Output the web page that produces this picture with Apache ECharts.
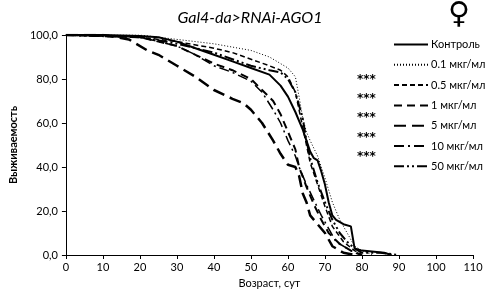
<!DOCTYPE html>
<html>
<head>
<meta charset="utf-8">
<script src="https://cdn.jsdelivr.net/npm/echarts@6/dist/echarts.min.js"></script>
<style>
  html, body { margin: 0; padding: 0; background: #fff; }
  #chart { width: 490px; height: 294px; }
</style>
</head>
<body>
<div id="chart"></div>
<script>
// названия серий (легенда)
const seriesNames = ["Контроль", "0.1 мкг/мл", "0.5 мкг/мл", "1 мкг/мл", "5 мкг/мл", "10 мкг/мл", "50 мкг/мл"];
// значимость различий с контролем
const signif = ["", "", "***", "***", "***", "***", "***"];

// выживаемость: [возраст, %]
const control = [[0,100],[10,100],[20,99.5],[25,99],[30,97],[35,94],[40,91],[45,88],[50,85],[55,82],[58,77],[60,72],[62,65],[64,57],[66,47],[67,44],[68,43],[69,38],[70,32],[71,24],[72,18],[73,16],[75,14],[77,13],[78,3],[80,2],[86,1],[88,0]];
const dose01 = [[0,100],[20,100],[30,98],[40,96],[50,93],[55,90],[57,88],[60,85],[62,81],[63,72],[64,62],[65,56],[66,52],[68,45],[70,35],[72,24],[74,16],[76,10],[78,4],[80,2],[83,0]];
const dose05 = [[0,100],[20,99],[30,97],[40,94],[45,92],[50,89],[55,86],[58,84],[60,81],[62,74],[63,66],[64,58],[65,50],[66,42],[68,32],[70,22],[72,13],[75,6],[78,2],[80,0]];
const dose1 = [[0,100],[20,99],[25,97],[30,95],[35,91],[40,87],[45,84],[50,80],[53,75],[56,70],[58,64],[60,56],[62,48],[63,40],[65,31],[67,23],[69,16],[71,10],[74,5],[77,2],[80,0]];
const dose5 = [[0,100],[10,100],[17,98],[22,93],[25,91],[30,86],[35,81],[40,75],[45,71],[48,69],[50,66],[53,60],[56,52],[58,46],[60,41],[62,40],[63,36],[64,28],[65,24],[66,18],[68,14],[70,10],[72,4],[75,1],[78,0]];
const dose10 = [[0,100],[20,99],[30,95],[35,91],[40,86],[45,83],[50,79],[53,74],[56,66],[58,60],[60,52],[62,45],[63,40],[65,32],[67,25],[69,18],[71,12],[73,6],[76,3],[78,1],[80,0]];
const dose50 = [[0,100],[20,99],[30,96],[40,92],[45,89],[50,86],[55,84],[58,83],[60,80],[62,74],[64,62],[65,52],[66,44],[68,33],[70,24],[72,16],[74,10],[76,6],[78,3],[80,1],[85,1],[90,0]];

const seriesData = [control, dose01, dose05, dose1, dose5, dose10, dose50];
const lineTypes = ["solid", [1, 2], [5, 3], [8, 5], [12, 6], [10, 4, 2, 4], [10, 3, 2, 3, 2, 3]];
const lineWidths = [2, 1, 1.5, 2, 2.5, 1.5, 2];

const font = "Lato, 'Open Sans', sans-serif";
let chart = echarts.init(document.getElementById("chart"), null, { renderer: "canvas" });

const legendTop = 34;
const legendStep = 19.3;

const option = {
	animation: false,
	backgroundColor: "#fff",
	title: {
		text: "Gal4-da>RNAi-AGO1",
		left: 245,
		textAlign: "center",
		top: 5,
		textStyle: { fontFamily: font, fontStyle: "italic", fontWeight: "normal", fontSize: 16, color: "#000" },
	},
	grid: { left: 61, right: 17, top: 35, bottom: 39 },
	legend: {
		orient: "vertical",
		left: 388,
		top: legendTop,
		itemWidth: 34,
		itemHeight: 10,
		itemGap: 9.3,
		data: seriesNames,
		itemStyle: { color: "transparent", borderColor: "transparent", borderWidth: 0 },
		textStyle: { fontFamily: font, fontSize: 11, color: "#000", padding: [0, 0, 0, -2] },
	},
	xAxis: {
		type: "value",
		min: 0,
		max: 110,
		interval: 10,
		name: "Возраст, сут",
		nameLocation: "middle",
		nameGap: 22,
		nameTextStyle: { fontFamily: font, fontSize: 11, color: "#000" },
		axisLine: { lineStyle: { color: "#000", width: 1 } },
		axisTick: { lineStyle: { color: "#000" }, length: 4 },
		axisLabel: { fontFamily: font, fontSize: 11, color: "#000", margin: 7 },
		splitLine: { show: false },
	},
	yAxis: {
		type: "value",
		min: 0,
		max: 100,
		interval: 20,
		name: "Выживаемость",
		nameLocation: "middle",
		nameGap: 46,
		nameTextStyle: { fontFamily: font, fontSize: 11, fontWeight: "bold", color: "#000" },
		axisLine: { show: true, lineStyle: { color: "#000", width: 1 } },
		axisTick: { show: true, lineStyle: { color: "#000" }, length: 4 },
		axisLabel: {
			fontFamily: font,
			fontSize: 11,
			color: "#000",
			formatter: (v) => v.toFixed(1).replace(".", ","),
		},
		splitLine: { show: false },
	},
	graphic: [
		{
			type: "text",
			left: 448,
			top: 0,
			style: { text: "♀", font: "bold 30px 'DejaVu Sans'", fill: "#000" },
		},
	].concat(
		signif
			.map((s, i) => ({ s, i }))
			.filter((d) => d.s)
			.map((d) => ({
				type: "text",
				left: 357,
				top: legendTop + d.i * legendStep + 1,
				style: { text: d.s, font: "bold 12px 'DejaVu Sans'", fill: "#000" },
			}))
	),
	series: seriesNames.map((name, i) => ({
		name,
		type: "line",
		data: seriesData[i],
		symbol: "none",
		color: "#000",
		lineStyle: { color: "#000", width: lineWidths[i], type: lineTypes[i] },
		z: 10 - i,
	})),
};

chart.setOption(option);
</script>
</body>
</html>
